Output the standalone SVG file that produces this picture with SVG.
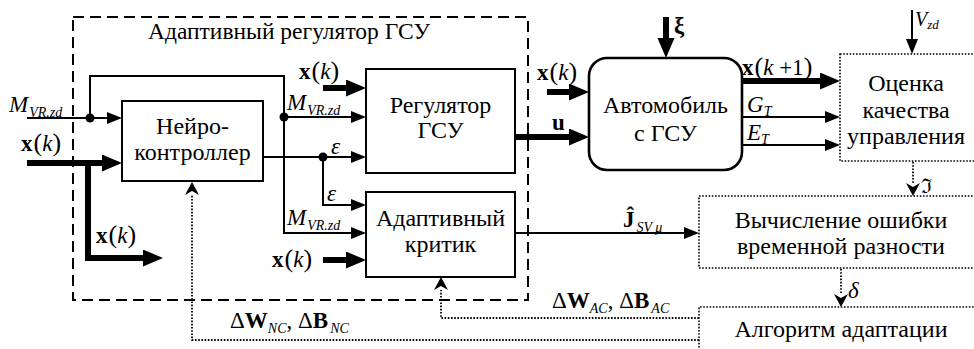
<svg xmlns="http://www.w3.org/2000/svg" width="974" height="349" viewBox="0 0 974 349">
<style>
.box { fill: #fff; stroke: #000; stroke-width: 2; }
.dbox { fill: none; stroke: #000; stroke-width: 1.6; stroke-dasharray: 1.6 1.6; }
.thin { fill: none; stroke: #000; stroke-width: 2; }
.thick { fill: none; stroke: #000; stroke-width: 6; }
.dot { fill: none; stroke: #000; stroke-width: 1.8; stroke-dasharray: 1.6 1.6; }
.j { fill: #000; }
</style>
<defs>
<marker id="a" markerUnits="userSpaceOnUse" markerWidth="16" markerHeight="14" refX="0" refY="6" orient="auto">
<path d="M0,0 L15,6 L0,12 z" fill="#000"/>
</marker>
<marker id="A" markerUnits="userSpaceOnUse" markerWidth="22" markerHeight="18" refX="0" refY="8.5" orient="auto">
<path d="M0,0 L20,8.5 L0,17 z" fill="#000"/>
</marker>
<marker id="d" markerUnits="userSpaceOnUse" markerWidth="14" markerHeight="16" refX="0" refY="7" orient="auto">
<path d="M0,0 L13,7 L0,14 L4,7 z" fill="#000"/>
</marker>
</defs>

<rect x="73" y="17" width="455" height="283" fill="none" stroke="#000" stroke-width="2" stroke-dasharray="11 6"/>
<text x="289" y="39" font-family="Liberation Serif" font-size="23.5" text-anchor="middle">Адаптивный регулятор  ГСУ</text>

<g id="connectors">
<line class="thin" x1="27" y1="118" x2="107" y2="118" marker-end="url(#a)"/>
<path class="thin" d="M90,118 V76 H284 V233 H351" marker-end="url(#a)"/>
<line class="thin" x1="284" y1="117" x2="351" y2="117" marker-end="url(#a)"/>
<line class="thin" x1="263" y1="157" x2="351" y2="157" marker-end="url(#a)"/>
<path class="thin" d="M323,157 V205 H351" marker-end="url(#a)"/>
<line class="thin" x1="742" y1="117" x2="825" y2="117" marker-end="url(#a)"/>
<line class="thin" x1="742" y1="145" x2="825" y2="145" marker-end="url(#a)"/>
<line class="thin" x1="912" y1="10" x2="912" y2="39" marker-end="url(#a)"/>
<line class="thin" x1="515" y1="233" x2="684" y2="233" marker-end="url(#a)"/>
<circle class="j" cx="90" cy="118" r="4.5"/>
<circle class="j" cx="284" cy="117" r="4.5"/>
<circle class="j" cx="323" cy="157" r="4.5"/>
<line class="thick" x1="27" y1="163" x2="102" y2="163" marker-end="url(#A)"/>
<path class="thick" d="M88,163 V258 H143" marker-end="url(#A)"/>
<line class="thick" x1="323" y1="88" x2="346" y2="88" marker-end="url(#A)"/>
<line class="thick" x1="323" y1="260" x2="346" y2="260" marker-end="url(#A)"/>
<line class="thick" x1="515" y1="137" x2="569" y2="137" marker-end="url(#A)"/>
<line class="thick" x1="547" y1="92" x2="569" y2="92" marker-end="url(#A)"/>
<line class="thick" x1="666" y1="17" x2="666" y2="38" marker-end="url(#A)"/>
<line class="thick" x1="742" y1="81" x2="820" y2="81" marker-end="url(#A)"/>
<line class="dot" x1="913" y1="162" x2="913" y2="183" marker-end="url(#d)"/>
<line class="dot" x1="841" y1="269" x2="841" y2="294" marker-end="url(#d)"/>
<path class="dot" d="M699,318 H441 V290" marker-end="url(#d)"/>
<path class="dot" d="M699,340 H192 V195" marker-end="url(#d)"/>
</g>

<g id="neuro">
<rect class="box" x="122" y="101" width="141" height="80"/>
<text x="192.5" y="134" font-family="Liberation Serif" font-size="24" text-anchor="middle">Нейро-</text>
<text x="192.5" y="160" font-family="Liberation Serif" font-size="24" text-anchor="middle">контроллер</text>
</g>
<g id="regulator">
<rect class="box" x="366" y="69" width="149" height="104"/>
<text x="440.5" y="113" font-family="Liberation Serif" font-size="24" text-anchor="middle">Регулятор</text>
<text x="440.5" y="138" font-family="Liberation Serif" font-size="24" text-anchor="middle">ГСУ</text>
</g>
<g id="critic">
<rect class="box" x="366" y="192" width="149" height="85"/>
<text x="440.5" y="226" font-family="Liberation Serif" font-size="24" text-anchor="middle">Адаптивный</text>
<text x="440.5" y="252" font-family="Liberation Serif" font-size="24" text-anchor="middle">критик</text>
</g>
<g id="car">
<rect x="589" y="58" width="153" height="112" rx="18" fill="#fff" stroke="#000" stroke-width="2.6"/>
<text x="665.5" y="113" font-family="Liberation Serif" font-size="24" text-anchor="middle">Автомобиль</text>
<text x="665.5" y="141" font-family="Liberation Serif" font-size="24" text-anchor="middle">с ГСУ</text>
</g>
<g id="quality">
<rect class="dbox" x="840" y="54" width="140" height="107"/>
<text x="906" y="91" font-family="Liberation Serif" font-size="24" text-anchor="middle">Оценка</text>
<text x="906" y="117.5" font-family="Liberation Serif" font-size="24" text-anchor="middle">качества</text>
<text x="906" y="144" font-family="Liberation Serif" font-size="24" text-anchor="middle">управления</text>
</g>
<g id="tderror">
<rect class="dbox" x="699" y="196" width="280" height="72"/>
<text x="841" y="228" font-family="Liberation Serif" font-size="24" text-anchor="middle">Вычисление ошибки</text>
<text x="841" y="254" font-family="Liberation Serif" font-size="24" text-anchor="middle">временной разности</text>
</g>
<g id="adapt">
<path class="dbox" d="M980,307 H699 V352"/>
<text x="841" y="337" font-family="Liberation Serif" font-size="24" text-anchor="middle">Алгоритм адаптации</text>
</g>

<g id="labels">
<text x="9" y="112" font-family="Liberation Serif" font-size="23"><tspan font-style="italic">M</tspan><tspan font-size="14" font-style="italic" dx="1" dy="5">VR.zd</tspan></text>
<text x="21" y="151" font-family="Liberation Serif" font-size="23"><tspan font-weight="bold">x</tspan><tspan font-size="26" dx="1">(</tspan><tspan font-style="italic">k</tspan><tspan font-size="26">)</tspan></text>
<text x="96" y="243" font-family="Liberation Serif" font-size="23"><tspan font-weight="bold">x</tspan><tspan font-size="26" dx="1">(</tspan><tspan font-style="italic">k</tspan><tspan font-size="26">)</tspan></text>
<text x="299" y="79" font-family="Liberation Serif" font-size="23"><tspan font-weight="bold">x</tspan><tspan font-size="26" dx="1">(</tspan><tspan font-style="italic">k</tspan><tspan font-size="26">)</tspan></text>
<text x="287" y="110" font-family="Liberation Serif" font-size="23"><tspan font-style="italic">M</tspan><tspan font-size="14" font-style="italic" dx="1" dy="5">VR.zd</tspan></text>
<text x="331" y="154" font-family="Liberation Serif" font-size="23" font-style="italic">ε</text>
<text x="327" y="201" font-family="Liberation Serif" font-size="23" font-style="italic">ε</text>
<text x="287" y="225" font-family="Liberation Serif" font-size="23"><tspan font-style="italic">M</tspan><tspan font-size="14" font-style="italic" dx="1" dy="5">VR.zd</tspan></text>
<text x="272" y="267" font-family="Liberation Serif" font-size="23"><tspan font-weight="bold">x</tspan><tspan font-size="26" dx="1">(</tspan><tspan font-style="italic">k</tspan><tspan font-size="26">)</tspan></text>
<text x="537" y="80" font-family="Liberation Serif" font-size="23"><tspan font-weight="bold">x</tspan><tspan font-size="26" dx="1">(</tspan><tspan font-style="italic">k</tspan><tspan font-size="26">)</tspan></text>
<text x="552" y="130" font-family="Liberation Serif" font-size="23" font-weight="bold">u</text>
<text x="674" y="33" font-family="Liberation Serif" font-size="23" font-weight="bold">ξ</text>
<text x="742" y="75" font-family="Liberation Serif" font-size="23"><tspan font-weight="bold">x</tspan><tspan font-size="26" dx="1">(</tspan><tspan font-style="italic">k</tspan> +1<tspan font-size="26">)</tspan></text>
<text x="747" y="112" font-family="Liberation Serif" font-size="23"><tspan font-style="italic">G</tspan><tspan font-size="14" font-style="italic" dy="4">T</tspan></text>
<text x="747" y="140" font-family="Liberation Serif" font-size="23"><tspan font-style="italic">E</tspan><tspan font-size="14" font-style="italic" dy="4">T</tspan></text>
<text x="915" y="26" font-family="Liberation Serif" font-size="20"><tspan font-style="italic">V</tspan><tspan font-size="13" font-style="italic" dy="3">zd</tspan></text>
<text x="921" y="193" font-family="DejaVu Serif" font-size="20">ℑ</text>
<text x="623" y="227" font-family="Liberation Serif" font-size="23"><tspan font-weight="bold">Ĵ</tspan><tspan font-size="14" font-style="italic" dx="2" dy="5">SV μ</tspan></text>
<text x="848" y="298" font-family="Liberation Serif" font-size="23" font-style="italic">δ</text>
<text x="552" y="308" font-family="Liberation Serif" font-size="23">Δ<tspan font-weight="bold">W</tspan><tspan font-size="14" font-style="italic" dy="5">AC</tspan><tspan dy="-5">,  Δ</tspan><tspan font-weight="bold">B</tspan><tspan font-size="14" font-style="italic" dx="2" dy="5">AC</tspan></text>
<text x="230" y="328" font-family="Liberation Serif" font-size="23">Δ<tspan font-weight="bold">W</tspan><tspan font-size="14" font-style="italic" dy="5">NC</tspan><tspan dy="-5">,  Δ</tspan><tspan font-weight="bold">B</tspan><tspan font-size="14" font-style="italic" dx="2" dy="5">NC</tspan></text>
</g>
</svg>
